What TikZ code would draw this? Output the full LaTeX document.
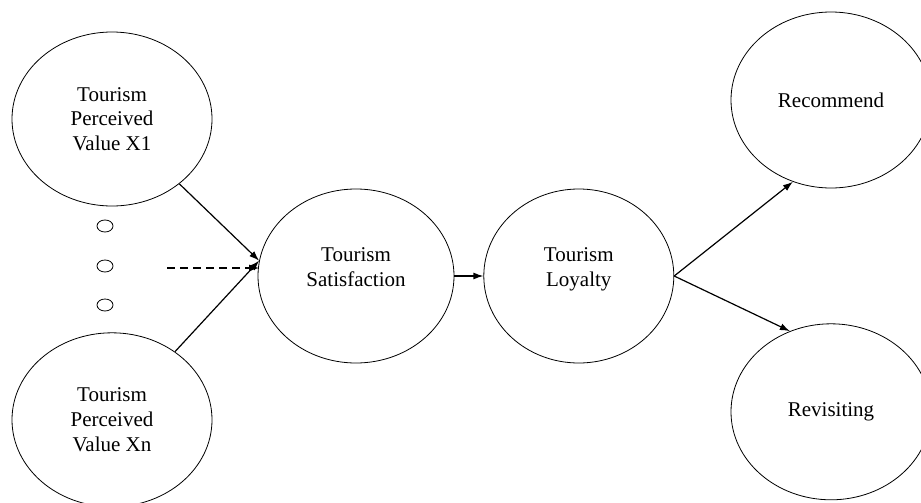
\documentclass[tikz,border=0pt]{standalone}
\usepackage{fontspec}
\setmainfont{Liberation Serif}
\usetikzlibrary{shapes.geometric,positioning,arrows.meta}

\begin{document}
\begin{tikzpicture}[
	x=0.5pt, y=-0.5pt,
	>={Latex[length=5pt,width=3.5pt]},
	bignode/.style={ellipse, draw, thin, inner sep=0pt, minimum width=100pt, minimum height=87pt, align=center, font=\fontsize{10.5}{12.3}\selectfont},
	dotnode/.style={ellipse, draw, thin, inner sep=0pt, minimum width=8pt, minimum height=6pt},
	link/.style={->, line width=0.6pt},
]
\useasboundingbox (0,0) rectangle (921,503);
\clip (0,0) rectangle (921,503);

\node[bignode] (valueone) at (112,119) {Tourism\\Perceived\\Value X1};
\node[bignode] (valuen) [below=63pt of valueone] {Tourism\\Perceived\\Value Xn};
\node[bignode, minimum width=98pt, text depth=9pt] (sat) at (356,276) {Tourism\\Satisfaction};
\node[bignode, minimum width=95pt, text depth=9pt] (loy) [right=14.5pt of sat] {Tourism\\Loyalty};
\node[bignode, minimum height=88pt] (rec) at (831,100) {Recommend};
\node[bignode, minimum height=88pt] (rev) [below=67.5pt of rec] {Revisiting};

\foreach \i/\y in {1/226,2/266,3/305}
	\node[dotnode] (dot\i) at (105,\y) {};

\coordinate (dashstart) at (167,268);

\draw[link](valueone)--(sat.171);
\draw[link](valuen)--(sat.171);
\draw[link, dash pattern=on 4pt off 2.5pt](dashstart)--(dashstart -| sat.171);
\draw[link](sat)--(loy);
\draw[link](loy.east)--(rec.245);
\draw[link](loy.east)--(rev.117);

\end{tikzpicture}
\end{document}
